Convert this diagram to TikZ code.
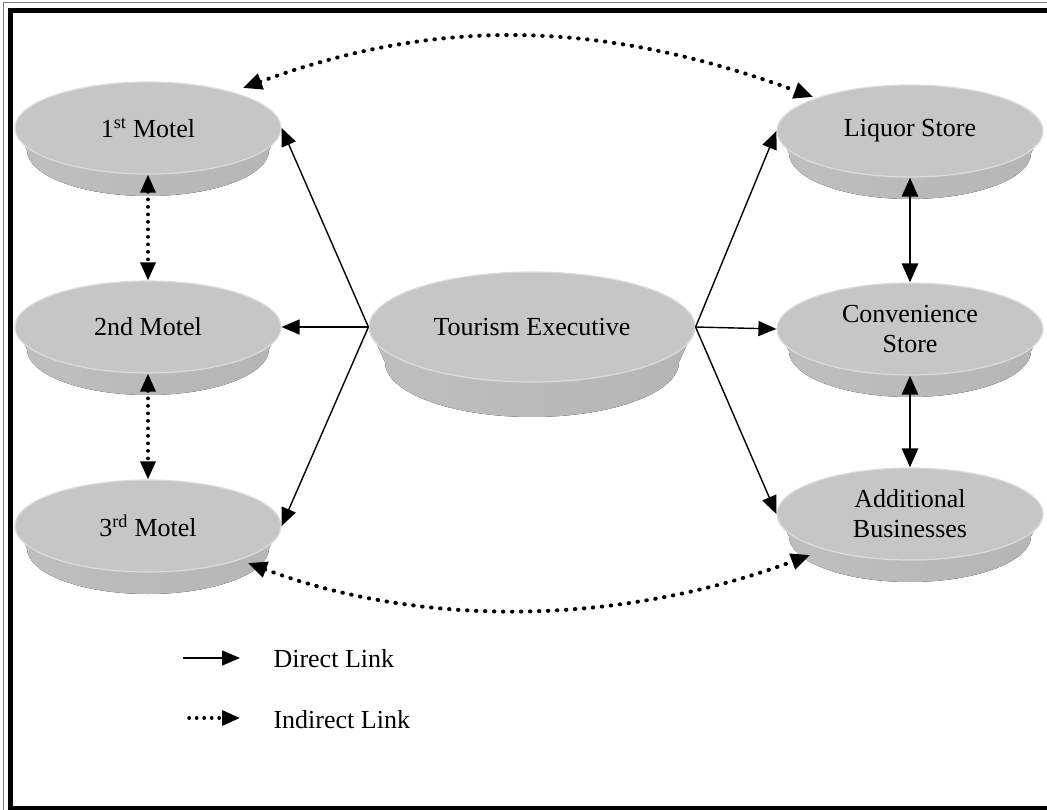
\documentclass[tikz,border=0pt]{standalone}
\usepackage{fontspec}
\setmainfont{Liberation Serif}
\usetikzlibrary{arrows.meta,calc,shapes.geometric}

\definecolor{topface}{HTML}{C6C6C6}
\definecolor{rimlight}{HTML}{DCDCDC}
\definecolor{sideL}{HTML}{BFBFBF}
\definecolor{sideM}{HTML}{A6A6A6}
\definecolor{sideR}{HTML}{B5B5B5}
\definecolor{framegray}{HTML}{7A7A7A}

\newcommand\diagfont{\fontsize{26}{30}\selectfont}

\tikzset{
  disctop/.style={ellipse, fill=topface, draw=rimlight, line width=1.2pt,
    inner sep=0pt, align=center, font=\diagfont},
  discside/.style={left color=sideL, middle color=sideM, right color=sideR},
  direct/.style={line width=1.4pt, -{Triangle[length=18pt,width=15pt]}},
  strong/.style={line width=2.8pt,
    {Triangle[length=19pt,width=16pt]}-{Triangle[length=19pt,width=16pt]}},
  dotcurve/.style={line width=4pt, line cap=round, dash pattern=on 0.5pt off 8.5pt,
    {Triangle[length=19pt,width=16pt]}-{Triangle[length=19pt,width=16pt]}},
  dotvert/.style={line width=3.4pt, line cap=round, dash pattern=on 0.3pt off 7.2pt,
    {Triangle[length=18pt,width=15pt]}-{Triangle[length=18pt,width=15pt]}},
  dotkey/.style={line width=3.4pt, line cap=round, dash pattern=on 0.3pt off 7.2pt,
    -{Triangle[length=18pt,width=15pt]}},
  keytext/.style={anchor=base west, font=\diagfont},
}

% a flat disc: shaded rim below an elliptical top face that carries the label
% #1 name, #2 x, #3 y, #4 x radius, #5 y radius, #6 depth, #7 inset, #8 label
\newcommand\discnode[8]{%
  \begin{scope}[shift={(#2,#3)}]
    \fill[discside] (-#4,0) -- (-#4+#7,#6)
      arc[start angle=180, end angle=0, x radius=#4-#7, y radius=#5]
      -- (#4,0) -- cycle;
  \end{scope}
  \node[disctop, minimum width={2*#4*1pt}, minimum height={2*#5*1pt}] (#1) at (#2,#3) {#8};
}

\begin{document}
\begin{tikzpicture}[x=1pt,y=-1pt]
  \clip (0,0) rectangle (1047,810);
  \fill[white] (0,0) rectangle (1047,810);

  % double frame
  \draw[framegray, line width=1pt] (3,3) rectangle (1070,830);
  \draw[black, line width=5pt] (10.5,10.5) rectangle (1070,808);

  % motels
  \discnode{m1}{148}{128}{133}{46}{22}{12}{1\textsuperscript{st} Motel}
  \discnode{m2}{148}{327}{133}{46}{22}{12}{2nd Motel}
  \discnode{m3}{148}{526}{133}{46}{22}{12}{3\textsuperscript{rd} Motel}

  % hub
  \discnode{te}{532}{327}{163}{55}{35}{16}{Tourism Executive}

  % stores
  \discnode{ls}{910}{131}{133}{46}{22}{12}{Liquor Store}
  \discnode{cs}{910}{329}{133}{46}{22}{12}{Convenience\\Store}
  \discnode{ab}{910}{514}{133}{46}{22}{12}{Additional\\Businesses}

  % direct links from the hub
  \draw[direct] (te.west) -- (m1.east);
  \draw[direct] (te.west) -- (m2.east);
  \draw[direct] (te.west) -- (m3.east);
  \draw[direct] (te.east) -- (ls.west);
  \draw[direct] (te.east) -- (cs.west);
  \draw[direct] (te.east) -- (ab.west);

  % direct links between stores
  \draw[strong] (ls.south) -- (cs.north);
  \draw[strong] (cs.south) -- (ab.north);

  % indirect links
  \draw[dotvert] (m1.south) -- (m2.north);
  \draw[dotvert] (m2.south) -- (m3.north);
  \draw[dotcurve] ($(m1)+(95,-40)$) .. controls (434,18) and (597,18) .. ($(ls)+(-97,-34)$);
  \draw[dotcurve] ($(m3)+(100,37)$) .. controls (419,627) and (616,627) .. ($(ab)+(-100,41)$);

  % key
  \coordinate (d0) at (183,658);
  \coordinate (d1) at (240,658);
  \draw[direct] (d0) -- (d1);
  \node[keytext] (dl) at (270,667) {Direct Link};
  \coordinate (i0) at (189,718);
  \coordinate (i1) at (240,718);
  \draw[dotkey] (i0) -- (i1);
  \node[keytext] (il) at (270,728) {Indirect Link};
\end{tikzpicture}
\end{document}
